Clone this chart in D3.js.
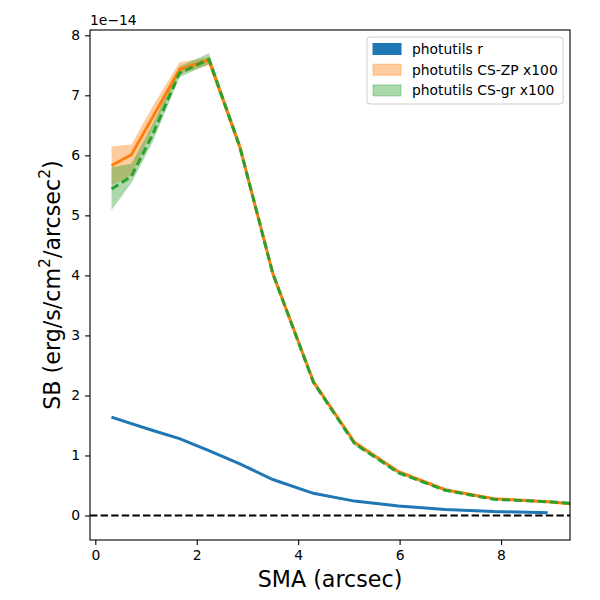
<!DOCTYPE html>
<html>
<head>
<meta charset="utf-8">
<script src="https://cdn.jsdelivr.net/npm/d3@7"></script>
<style>
  body { margin: 0; background: #fff; }
  text { font-family: "DejaVu Sans", sans-serif; }
</style>
</head>
<body>
<script>
/* ------------------------------- Chart data ------------------------------- */
// semi-major axis (arcsec)
const sma = [0.32, 0.71, 1.12, 1.66, 2.24, 2.85, 3.50, 4.30, 5.11, 5.98, 6.90, 7.86, 8.92, 10.1];
// photutils r profile (units of 1e-14)
const photR = [1.64, 1.53, 1.42, 1.28, 1.08, 0.86, 0.60, 0.37, 0.24, 0.16, 0.10, 0.065, 0.048];
const photRLo = [1.62, 1.51, 1.40, 1.27, 1.07, 0.85, 0.59, 0.365, 0.235, 0.155, 0.097, 0.062, 0.045];
const photRHi = [1.66, 1.55, 1.44, 1.29, 1.09, 0.87, 0.61, 0.375, 0.245, 0.165, 0.103, 0.068, 0.051];
// photutils CS-ZP x100
const csZP = [5.83, 6.01, 6.62, 7.43, 7.59, 6.14, 4.03, 2.23, 1.22, 0.73, 0.43, 0.28, 0.23, 0.14];
const csZPLo = [5.50, 5.67, 6.42, 7.36, 7.50, 6.08, 3.99, 2.20, 1.20, 0.71, 0.42, 0.27, 0.22, 0.13];
const csZPHi = [6.15, 6.18, 6.80, 7.55, 7.63, 6.20, 4.07, 2.26, 1.24, 0.75, 0.44, 0.29, 0.24, 0.15];
// photutils CS-gr x100
const csGR = [5.44, 5.65, 6.33, 7.37, 7.60, 6.14, 4.03, 2.22, 1.20, 0.71, 0.42, 0.27, 0.23, 0.16];
const csGRLo = [5.09, 5.54, 6.20, 7.30, 7.52, 6.07, 3.98, 2.18, 1.17, 0.69, 0.40, 0.26, 0.21, 0.14];
const csGRHi = [5.80, 5.86, 6.50, 7.48, 7.70, 6.21, 4.08, 2.26, 1.23, 0.73, 0.44, 0.29, 0.25, 0.18];

const xTicks = [0, 2, 4, 6, 8];
const yTicks = [0, 1, 2, 3, 4, 5, 6, 7, 8];
const legendLabels = ["photutils r", "photutils CS-ZP x100", "photutils CS-gr x100"];

/* ----------------------------- Layout / styles ---------------------------- */
const width = 600, height = 600;
const mLeft = 90, mRight = 570, mTop = 30, mBottom = 540;
const blue = "#1f77b4", orange = "#ff7f0e", green = "#2ca02c";
const tickFont = "13.9px";
const labelFont = "22.2px";

const svg = d3.select("body").append("svg").attr("width", width).attr("height", height);

const x = d3.scaleLinear().domain([-0.105, 9.36]).range([mLeft, mRight]);
const y = d3.scaleLinear().domain([-0.408, 8.088]).range([mBottom, mTop]);

svg.append("clipPath").attr("id", "clip")
  .append("rect").attr("x", mLeft).attr("y", mTop).attr("width", mRight - mLeft).attr("height", mBottom - mTop);

const plot = svg.append("g").attr("clip-path", "url(#clip)");

const band = (lo, hi) => d3.area()
  .x((d, i) => x(sma[i]))
  .y0((d, i) => y(lo[i]))
  .y1((d, i) => y(hi[i]));
const line = d3.line().x((d, i) => x(sma[i])).y(d => y(d));

// bands
plot.append("path").datum(photR).attr("d", band(photRLo, photRHi)).attr("fill", blue).attr("fill-opacity", 0.4);
plot.append("path").datum(csZP).attr("d", band(csZPLo, csZPHi)).attr("fill", orange).attr("fill-opacity", 0.4);
plot.append("path").datum(csGR).attr("d", band(csGRLo, csGRHi)).attr("fill", green).attr("fill-opacity", 0.4);

// zero line
plot.append("line")
  .attr("x1", mLeft).attr("x2", mRight).attr("y1", y(0)).attr("y2", y(0))
  .attr("stroke", "#000").attr("stroke-width", 2).attr("stroke-dasharray", "7.4,3.2");

// profiles
plot.append("path").datum(photR).attr("d", line).attr("fill", "none").attr("stroke", blue).attr("stroke-width", 3);
plot.append("path").datum(csZP).attr("d", line).attr("fill", "none").attr("stroke", orange).attr("stroke-width", 3);
plot.append("path").datum(csGR).attr("d", line).attr("fill", "none").attr("stroke", green).attr("stroke-width", 3)
  .attr("stroke-dasharray", "8,4");

/* ---------------------------------- Axes ---------------------------------- */
const xAxis = svg.append("g").attr("transform", `translate(0,${mBottom})`)
  .call(d3.axisBottom(x).tickValues(xTicks).tickSize(4.9).tickPadding(4.9).tickFormat(d3.format("d")));
const yAxis = svg.append("g").attr("transform", `translate(${mLeft},0)`)
  .call(d3.axisLeft(y).tickValues(yTicks).tickSize(4.9).tickPadding(4.9).tickFormat(d3.format("d")));
[xAxis, yAxis].forEach(a => {
  a.select(".domain").remove();
  a.selectAll("line").attr("stroke", "#000").attr("stroke-width", 1.1);
  a.selectAll("text").attr("font-size", tickFont).attr("fill", "#000").style("font-family", "DejaVu Sans");
});

svg.append("rect").attr("x", mLeft).attr("y", mTop).attr("width", mRight - mLeft).attr("height", mBottom - mTop)
  .attr("fill", "none").attr("stroke", "#000").attr("stroke-width", 1.1);

// offset text
svg.append("text").attr("x", mLeft).attr("y", 25).attr("font-size", tickFont).text("1e\u221214");

// axis labels
svg.append("text").attr("x", (mLeft + mRight) / 2).attr("y", 587).attr("text-anchor", "middle")
  .attr("font-size", labelFont).text("SMA (arcsec)");

const yl = svg.append("text").attr("transform", `translate(60,${(mTop + mBottom) / 2}) rotate(-90)`)
  .attr("text-anchor", "middle").attr("font-size", labelFont);
yl.append("tspan").text("SB (erg/s/cm");
yl.append("tspan").attr("dy", -10).attr("font-size", "15.5px").text("2");
yl.append("tspan").attr("dy", 10).text("/arcsec");
yl.append("tspan").attr("dy", -10).attr("font-size", "15.5px").text("2");
yl.append("tspan").attr("dy", 10).text(")");

/* --------------------------------- Legend --------------------------------- */
const legend = svg.append("g").attr("transform", "translate(367,37)");
legend.append("rect").attr("width", 196).attr("height", 67).attr("rx", 3)
  .attr("fill", "#fff").attr("fill-opacity", 0.8).attr("stroke", "#ccc").attr("stroke-width", 1);
const legendColors = [[blue, 1], [orange, 0.4], [green, 0.4]];
legendLabels.forEach((lab, i) => {
  const row = legend.append("g").attr("transform", `translate(0,${12 + i * 20.7})`);
  row.append("rect").attr("x", 6).attr("y", -5.5).attr("width", 28).attr("height", 11)
    .attr("fill", legendColors[i][0]).attr("fill-opacity", legendColors[i][1])
    .attr("stroke", legendColors[i][0]).attr("stroke-opacity", legendColors[i][1]);
  row.append("text").attr("x", 45).attr("y", 5).attr("font-size", tickFont).text(lab);
});
</script>
</body>
</html>
